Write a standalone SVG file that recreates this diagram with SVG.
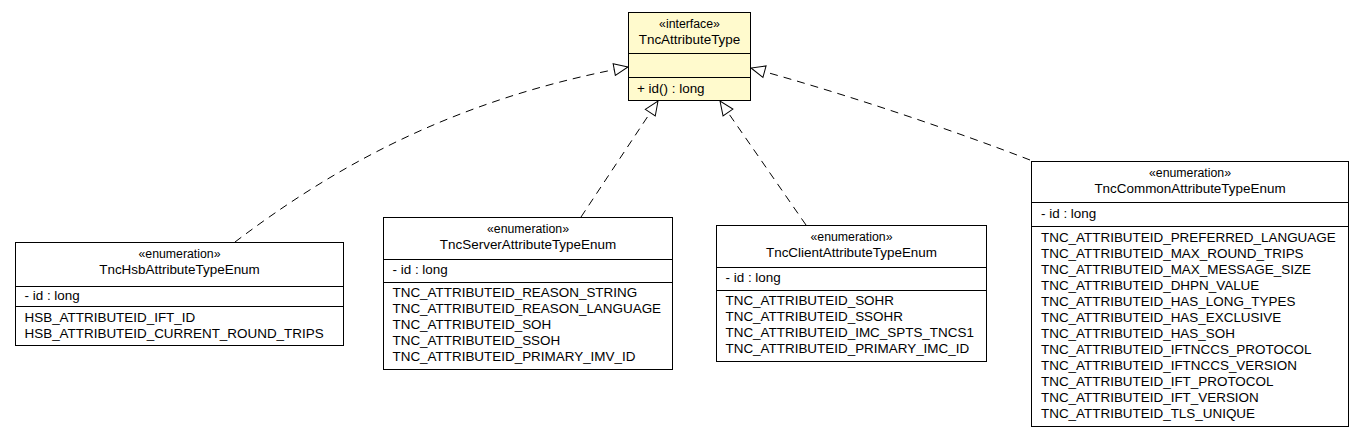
<svg xmlns="http://www.w3.org/2000/svg" width="1365" height="437" viewBox="0 0 1365 437">
<style>
text{font-family:"Liberation Sans",Arial,Helvetica,sans-serif;font-size:13.45px;fill:#000}
.st{font-size:12.3px}
.c{text-anchor:middle}
.box{fill:#fff;stroke:#000;stroke-width:1}
.iface{fill:#FFFACD;stroke:#000;stroke-width:1}
.ln{stroke:#000;stroke-width:1;fill:none}
.dep{stroke:#000;stroke-width:1;fill:none;stroke-dasharray:8,6}
</style>
<defs>
<marker id="tri" markerWidth="18" markerHeight="14" refX="15" refY="7" orient="auto" markerUnits="userSpaceOnUse">
<path d="M1,1 L15,7 L1,13 Z" fill="#fff" stroke="#000" stroke-width="1" stroke-dasharray="none"/>
</marker>
</defs>
<g id="connectors">
<path class="dep" d="M235,242 C330,170 450,100 628,67" marker-end="url(#tri)"/>
<path class="dep" d="M581,217 L658,101" marker-end="url(#tri)"/>
<path class="dep" d="M806,225 L720,101" marker-end="url(#tri)"/>
<path class="dep" d="M1030,160 C960,133 850,95 751,68" marker-end="url(#tri)"/>
</g>
<g id="TncAttributeType">
<rect class="iface" x="628.5" y="12.5" width="122" height="88"/>
<line class="ln" x1="628.5" y1="53.5" x2="750.5" y2="53.5"/>
<line class="ln" x1="628.5" y1="77.5" x2="750.5" y2="77.5"/>
<text class="st c" x="689.5" y="27.5">«interface»</text>
<text class="c" x="689.5" y="43.5">TncAttributeType</text>
<text x="637" y="92.5">+ id() : long</text>
</g>
<g id="TncHsbAttributeTypeEnum">
<rect class="box" x="15.5" y="242.5" width="328" height="103"/>
<line class="ln" x1="15.5" y1="286.5" x2="343.5" y2="286.5"/>
<line class="ln" x1="15.5" y1="306.5" x2="343.5" y2="306.5"/>
<text class="st c" x="179.5" y="257.5">«enumeration»</text>
<text class="c" x="179.5" y="273.5">TncHsbAttributeTypeEnum</text>
<text x="24.5" y="300">- id : long</text>
<text x="24.5" y="321.5">HSB_ATTRIBUTEID_IFT_ID</text>
<text x="24.5" y="337.5">HSB_ATTRIBUTEID_CURRENT_ROUND_TRIPS</text>
</g>
<g id="TncServerAttributeTypeEnum">
<rect class="box" x="383.5" y="217.5" width="289" height="152"/>
<line class="ln" x1="383.5" y1="259.5" x2="672.5" y2="259.5"/>
<line class="ln" x1="383.5" y1="282.5" x2="672.5" y2="282.5"/>
<text class="st c" x="528" y="232.5">«enumeration»</text>
<text class="c" x="528" y="248.5">TncServerAttributeTypeEnum</text>
<text x="392.5" y="274">- id : long</text>
<text x="392.5" y="297">TNC_ATTRIBUTEID_REASON_STRING</text>
<text x="392.5" y="313">TNC_ATTRIBUTEID_REASON_LANGUAGE</text>
<text x="392.5" y="329">TNC_ATTRIBUTEID_SOH</text>
<text x="392.5" y="345">TNC_ATTRIBUTEID_SSOH</text>
<text x="392.5" y="361">TNC_ATTRIBUTEID_PRIMARY_IMV_ID</text>
</g>
<g id="TncClientAttributeTypeEnum">
<rect class="box" x="716.5" y="225.5" width="270" height="136"/>
<line class="ln" x1="716.5" y1="267.5" x2="986.5" y2="267.5"/>
<line class="ln" x1="716.5" y1="290.5" x2="986.5" y2="290.5"/>
<text class="st c" x="851.5" y="240.5">«enumeration»</text>
<text class="c" x="851.5" y="256.5">TncClientAttributeTypeEnum</text>
<text x="725.5" y="282">- id : long</text>
<text x="725.5" y="305">TNC_ATTRIBUTEID_SOHR</text>
<text x="725.5" y="321">TNC_ATTRIBUTEID_SSOHR</text>
<text x="725.5" y="337">TNC_ATTRIBUTEID_IMC_SPTS_TNCS1</text>
<text x="725.5" y="353">TNC_ATTRIBUTEID_PRIMARY_IMC_ID</text>
</g>
<g id="TncCommonAttributeTypeEnum">
<rect class="box" x="1031.5" y="161.5" width="317" height="265"/>
<line class="ln" x1="1031.5" y1="202.5" x2="1348.5" y2="202.5"/>
<line class="ln" x1="1031.5" y1="226.5" x2="1348.5" y2="226.5"/>
<text class="st c" x="1190" y="176.5">«enumeration»</text>
<text class="c" x="1190" y="192.5">TncCommonAttributeTypeEnum</text>
<text x="1041" y="218">- id : long</text>
<text x="1041" y="241.5">TNC_ATTRIBUTEID_PREFERRED_LANGUAGE</text>
<text x="1041" y="257.5">TNC_ATTRIBUTEID_MAX_ROUND_TRIPS</text>
<text x="1041" y="273.5">TNC_ATTRIBUTEID_MAX_MESSAGE_SIZE</text>
<text x="1041" y="289.5">TNC_ATTRIBUTEID_DHPN_VALUE</text>
<text x="1041" y="305.5">TNC_ATTRIBUTEID_HAS_LONG_TYPES</text>
<text x="1041" y="321.5">TNC_ATTRIBUTEID_HAS_EXCLUSIVE</text>
<text x="1041" y="337.5">TNC_ATTRIBUTEID_HAS_SOH</text>
<text x="1041" y="353.5">TNC_ATTRIBUTEID_IFTNCCS_PROTOCOL</text>
<text x="1041" y="369.5">TNC_ATTRIBUTEID_IFTNCCS_VERSION</text>
<text x="1041" y="385.5">TNC_ATTRIBUTEID_IFT_PROTOCOL</text>
<text x="1041" y="401.5">TNC_ATTRIBUTEID_IFT_VERSION</text>
<text x="1041" y="417.5">TNC_ATTRIBUTEID_TLS_UNIQUE</text>
</g>
</svg>
